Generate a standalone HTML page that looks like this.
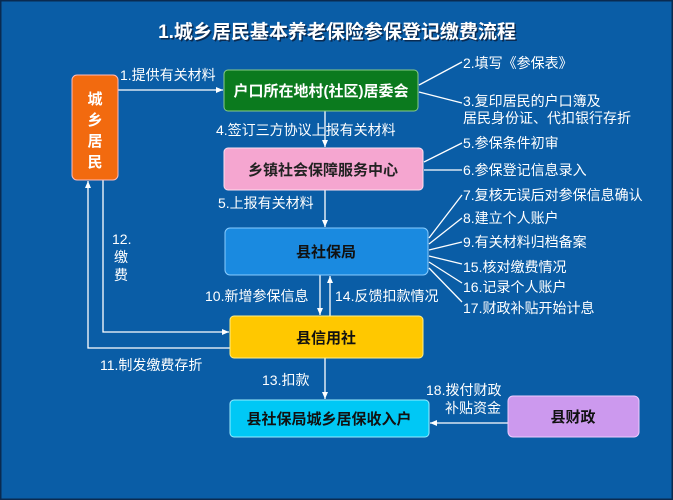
<!DOCTYPE html>
<html><head><meta charset="utf-8"><style>
body{margin:0;background:#0a5da6;}
svg{display:block}
text{font-family:"Liberation Sans","Noto Sans CJK SC",sans-serif;}
.l{fill:#fff;font-size:14px;}
.b{font-size:15px;font-weight:bold;text-anchor:middle;}
</style></head><body>
<svg width="673" height="500" viewBox="0 0 673 500">
<defs><marker id="a" markerWidth="8" markerHeight="8" refX="7" refY="4" orient="auto" markerUnits="userSpaceOnUse"><path d="M0,1 L7,4 L0,7 Z" fill="#fff"/></marker></defs>
<rect x="0" y="0" width="673" height="500" fill="#0a5da6" stroke="#0a2a50" stroke-width="3"/>
<text x="337" y="38" text-anchor="middle" font-size="19" font-weight="bold" fill="#0a2a50" dx="1.5" dy="1.5">1.城乡居民基本养老保险参保登记缴费流程</text>
<text x="337" y="38" text-anchor="middle" font-size="19" font-weight="bold" fill="#fff">1.城乡居民基本养老保险参保登记缴费流程</text>
<g stroke="#fff" stroke-width="1.3" fill="none">
<line x1="118" y1="90" x2="223" y2="90" marker-end="url(#a)"/>
<polyline points="230,348 88,348 88,181" marker-end="url(#a)"/>
<polyline points="103,180 103,332 229,332" marker-end="url(#a)"/>
<line x1="325" y1="111" x2="325" y2="147" marker-end="url(#a)"/>
<line x1="325" y1="190" x2="325" y2="227" marker-end="url(#a)"/>
<line x1="320" y1="275" x2="320" y2="315" marker-end="url(#a)"/>
<line x1="330" y1="316" x2="330" y2="276" marker-end="url(#a)"/>
<line x1="325" y1="358" x2="325" y2="399" marker-end="url(#a)"/>
<line x1="508" y1="423" x2="430" y2="423" marker-end="url(#a)"/>
<line x1="419" y1="85" x2="462" y2="62"/>
<line x1="419" y1="92" x2="462" y2="103"/>
<line x1="424" y1="162" x2="462" y2="143"/>
<line x1="424" y1="170" x2="462" y2="170"/>
<line x1="429" y1="238" x2="462" y2="195"/>
<line x1="429" y1="244" x2="462" y2="218"/>
<line x1="429" y1="250" x2="462" y2="242"/>
<line x1="429" y1="256" x2="462" y2="264"/>
<line x1="429" y1="262" x2="462" y2="283"/>
<line x1="429" y1="268" x2="462" y2="302"/>
</g>
<rect x="72" y="75" width="46" height="105" rx="5" fill="#f26a0f" stroke="#fbb" stroke-width="1"/>
<g fill="#fff" font-size="15" font-weight="bold" text-anchor="middle"><text x="95" y="104">城</text><text x="95" y="125">乡</text><text x="95" y="146">居</text><text x="95" y="167">民</text></g>
<rect x="224" y="70" width="194" height="41" rx="4" fill="#0b7a1e" stroke="#8c8" />
<text class="b" x="321" y="96" fill="#fff">户口所在地村(社区)居委会</text>
<rect x="224" y="148" width="199" height="42" rx="4" fill="#f5a6d0" stroke="#fde"/>
<text class="b" x="323" y="175" fill="#222">乡镇社会保障服务中心</text>
<rect x="225" y="228" width="203" height="47" rx="5" fill="#1a8ae0" stroke="#8cf"/>
<text class="b" x="326" y="257" fill="#111">县社保局</text>
<rect x="230" y="316" width="193" height="42" rx="4" fill="#ffc800" stroke="#fe8"/>
<text class="b" x="326" y="343" fill="#111">县信用社</text>
<rect x="230" y="400" width="199" height="37" rx="4" fill="#00c8f5" stroke="#9ef"/>
<text class="b" x="329" y="424" fill="#111">县社保局城乡居保收入户</text>
<rect x="508" y="396" width="131" height="41" rx="5" fill="#cc99ee" stroke="#ecf"/>
<text class="b" x="573" y="422" fill="#111">县财政</text>
<g class="l">
<text x="120" y="80">1.提供有关材料</text>
<text x="216" y="135">4.签订三方协议上报有关材料</text>
<text x="218" y="208">5.上报有关材料</text>
<text x="112" y="244">12.</text><text x="114" y="262">缴</text><text x="114" y="280">费</text>
<text x="205" y="301">10.新增参保信息</text>
<text x="335" y="301">14.反馈扣款情况</text>
<text x="100" y="370">11.制发缴费存折</text>
<text x="262" y="385">13.扣款</text>
<text x="426" y="395">18.拨付财政</text>
<text x="445" y="413">补贴资金</text>
<text x="463" y="68">2.填写《参保表》</text>
<text x="463" y="106">3.复印居民的户口簿及</text>
<text x="463" y="123">居民身份证、代扣银行存折</text>
<text x="463" y="148">5.参保条件初审</text>
<text x="463" y="175">6.参保登记信息录入</text>
<text x="463" y="200">7.复核无误后对参保信息确认</text>
<text x="463" y="223">8.建立个人账户</text>
<text x="463" y="247">9.有关材料归档备案</text>
<text x="463" y="272">15.核对缴费情况</text>
<text x="463" y="292">16.记录个人账户</text>
<text x="463" y="313">17.财政补贴开始计息</text>
</g>
</svg>
</body></html>
